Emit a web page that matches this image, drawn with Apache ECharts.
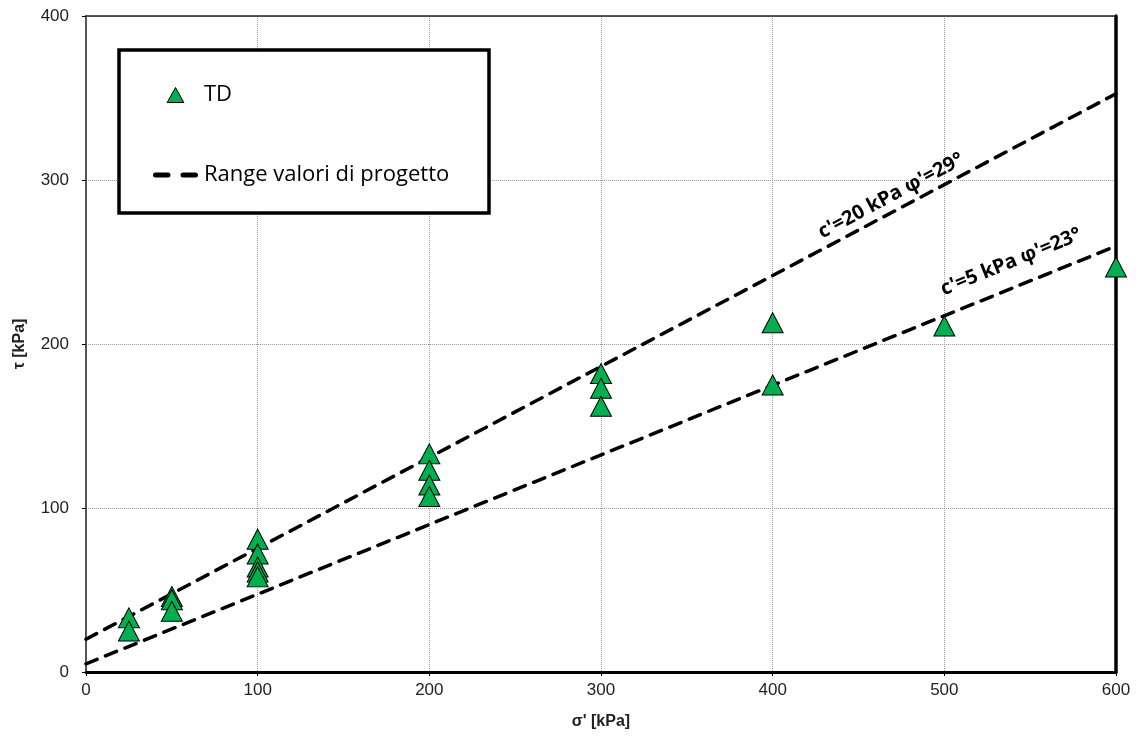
<!DOCTYPE html>
<html>
<head>
<meta charset="utf-8">
<script src="https://cdn.jsdelivr.net/npm/echarts@6/dist/echarts.min.js"></script>
<style>html,body{margin:0;padding:0;background:#fff}#c{width:1142px;height:742px}</style>
</head>
<body>
<div id="c"></div>
<script>
// Data
const sigmaTD = [25, 25, 50, 50, 50, 100, 100, 100, 100, 100, 200, 200, 200, 200, 300, 300, 300, 400, 400, 500, 600];
const tauTD   = [33, 25, 46, 44, 37, 81, 72, 64, 61, 58, 133, 123, 114, 107, 182, 173, 162, 213, 175, 211, 247];
const lineSigma = [0, 600];
const upperTau = [20, 352.6];   // c'=20 kPa, phi'=29°
const lowerTau = [5, 259.7];    // c'=5 kPa, phi'=23°
const xTicks = [0, 100, 200, 300, 400, 500, 600];
const yTicks = [0, 100, 200, 300, 400];
const upperLabel = "c'=20 kPa φ'=29°";
const lowerLabel = "c'=5 kPa φ'=23°";

const chart = echarts.init(document.getElementById('c'), null, {renderer: 'canvas'});
const tdData = sigmaTD.map((s, i) => [s, tauTD[i]]);
const upData = lineSigma.map((s, i) => [s, upperTau[i]]);
const loData = lineSigma.map((s, i) => [s, lowerTau[i]]);

const dash = {color: '#000', width: 3.5, type: [12, 9], cap: 'round'};
const tickFont = {fontFamily: 'Liberation Sans', fontSize: 17, color: '#222'};
const nameFont = {fontFamily: 'Liberation Sans', fontSize: 16, fontWeight: 'bold', color: '#222'};

const option = {
  animation: false,
  backgroundColor: '#fff',
  grid: {left: 86, right: 26, top: 16, bottom: 70},
  xAxis: [{
    type: 'value', min: xTicks[0], max: xTicks[xTicks.length - 1], interval: 100,
    name: "σ' [kPa]", nameLocation: 'middle', nameGap: 42, nameTextStyle: nameFont,
    axisLine: {show: true, onZero: false, lineStyle: {color: '#000', width: 3}},
    axisTick: {show: true, inside: false, length: 4, lineStyle: {color: '#000', width: 1}},
    axisLabel: Object.assign({margin: 10}, tickFont),
    splitLine: {show: true, lineStyle: {color: '#999', type: 'dotted', width: 1}}
  }, {
    type: 'value', position: 'top', min: 0, max: 600, interval: 100,
    axisLine: {show: true, onZero: false, lineStyle: {color: '#222', width: 1.5}},
    axisTick: {show: false}, axisLabel: {show: false}, splitLine: {show: false}
  }],
  yAxis: [{
    type: 'value', min: yTicks[0], max: yTicks[yTicks.length - 1], interval: 100,
    name: 'τ [kPa]', nameLocation: 'middle', nameGap: 58, nameRotate: 90, nameTextStyle: nameFont,
    axisLine: {show: true, onZero: false, lineStyle: {color: '#555', width: 2}},
    axisTick: {show: true, inside: false, length: 4, lineStyle: {color: '#000', width: 1}},
    axisLabel: Object.assign({margin: 17}, tickFont),
    splitLine: {show: true, lineStyle: {color: '#999', type: 'dotted', width: 1}}
  }, {
    type: 'value', position: 'right', min: 0, max: 400, interval: 100,
    axisLine: {show: true, onZero: false, lineStyle: {color: '#000', width: 3.5}},
    axisTick: {show: false}, axisLabel: {show: false}, splitLine: {show: false}
  }],
  legend: {
    orient: 'vertical', left: 148, top: 79, itemGap: 58,
    itemWidth: 45, itemHeight: 15, z: 20, symbolKeepAspect: true,
    textStyle: {fontFamily: 'Open Sans', fontSize: 22, color: '#000', padding: [0, 0, 0, 1]},
    data: [
      {name: 'TD', icon: 'path://M10,0 L20,18 L0,18 Z',
       itemStyle: {color: '#00B050', borderColor: '#000', borderWidth: 1}},
      {name: 'Range valori di progetto', icon: 'path://M2,0 H12 A2,2 0 0 1 12,4 H2 A2,2 0 0 1 2,0 Z M24,0 H34 A2,2 0 0 1 34,4 H24 A2,2 0 0 1 24,0 Z',
       itemStyle: {color: '#000', borderWidth: 0}}
    ]
  },
  series: [{
    name: 'Range valori di progetto', type: 'line', data: upData,
    showSymbol: false, symbol: 'none', lineStyle: dash, itemStyle: {color: '#000'}, z: 3, silent: true
  }, {
    name: 'Range valori di progetto', type: 'line', data: loData,
    showSymbol: false, symbol: 'none', lineStyle: dash, itemStyle: {color: '#000'}, z: 3, silent: true
  }, {
    name: 'TD', type: 'scatter', data: tdData, symbol: 'triangle', symbolSize: [21, 20],
    itemStyle: {color: '#00B050', borderColor: '#000', borderWidth: 1, opacity: 1}, z: 4
  }]
};
chart.setOption(option);

// rotated annotations aligned with the lines (angle from the data endpoints)
const p0u = chart.convertToPixel({xAxisIndex: 0, yAxisIndex: 0}, upData[0]);
const p1u = chart.convertToPixel({xAxisIndex: 0, yAxisIndex: 0}, upData[1]);
const p0l = chart.convertToPixel({xAxisIndex: 0, yAxisIndex: 0}, loData[0]);
const p1l = chart.convertToPixel({xAxisIndex: 0, yAxisIndex: 0}, loData[1]);
const angU = Math.atan2(p0u[1] - p1u[1], p1u[0] - p0u[0]);
const angL = Math.atan2(p0l[1] - p1l[1], p1l[0] - p0l[0]);
chart.setOption({
  graphic: [{
    type: 'rect', z: 10, shape: {x: 119, y: 50, width: 370, height: 163},
    style: {fill: '#fff', stroke: '#000', lineWidth: 3.5}
  }, {
    type: 'text', x: 891, y: 196, rotation: angU, z: 12,
    style: {text: upperLabel, font: 'bold 20px "Open Sans"', fill: '#000', textAlign: 'center', textVerticalAlign: 'middle'}
  }, {
    type: 'text', x: 1011, y: 262, rotation: angL, z: 12,
    style: {text: lowerLabel, font: 'bold 20px "Open Sans"', fill: '#000', textAlign: 'center', textVerticalAlign: 'middle'}
  }]
});
</script>
</body>
</html>
